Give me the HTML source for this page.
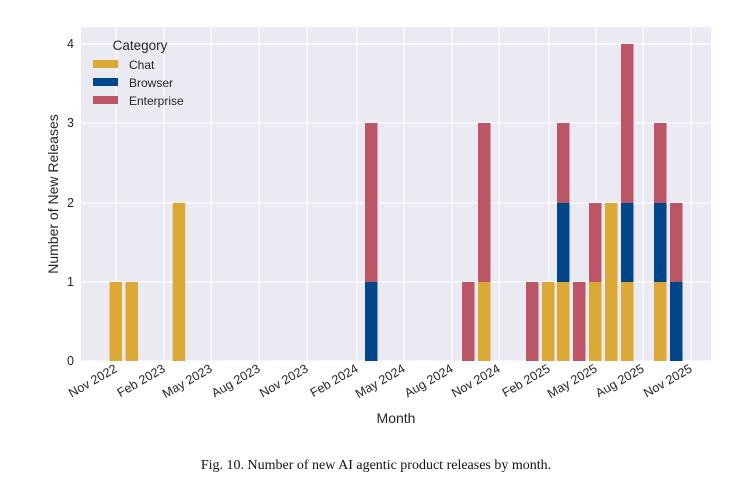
<!DOCTYPE html>
<html><head><meta charset="utf-8"><style>body{margin:0;background:#fff}svg{display:block}</style></head><body>
<svg width="750" height="489" xmlns="http://www.w3.org/2000/svg" font-family="Liberation Sans, sans-serif">
<rect x="81" y="27" width="630" height="334" fill="#EAEAF2"/>
<g stroke="#fff" stroke-width="1.2">
<line x1="81" x2="711" y1="361" y2="361"/><line x1="81" x2="711" y1="282" y2="282"/><line x1="81" x2="711" y1="203" y2="203"/><line x1="81" x2="711" y1="123" y2="123"/><line x1="81" x2="711" y1="44" y2="44"/>
<line x1="116" x2="116" y1="27" y2="361"/><line x1="164" x2="164" y1="27" y2="361"/><line x1="211" x2="211" y1="27" y2="361"/><line x1="259" x2="259" y1="27" y2="361"/><line x1="307" x2="307" y1="27" y2="361"/><line x1="357" x2="357" y1="27" y2="361"/><line x1="404" x2="404" y1="27" y2="361"/><line x1="452" x2="452" y1="27" y2="361"/><line x1="499" x2="499" y1="27" y2="361"/><line x1="549" x2="549" y1="27" y2="361"/><line x1="596" x2="596" y1="27" y2="361"/><line x1="643" x2="643" y1="27" y2="361"/><line x1="691" x2="691" y1="27" y2="361"/>
</g>
<g>
<rect x="109.5" y="282" width="12.5" height="79" fill="#DDA935"/>
<rect x="125.5" y="282" width="12.5" height="79" fill="#DDA935"/>
<rect x="172.7" y="203" width="12.5" height="158" fill="#DDA935"/>
<rect x="365" y="282" width="12.5" height="79" fill="#00468B"/><rect x="365" y="123" width="12.5" height="159" fill="#BC5566"/>
<rect x="462" y="282" width="12.5" height="79" fill="#BC5566"/>
<rect x="478" y="282" width="12.5" height="79" fill="#DDA935"/><rect x="478" y="123" width="12.5" height="159" fill="#BC5566"/>
<rect x="526" y="282" width="12.5" height="79" fill="#BC5566"/>
<rect x="542" y="282" width="12.5" height="79" fill="#DDA935"/>
<rect x="557" y="282" width="12.5" height="79" fill="#DDA935"/><rect x="557" y="203" width="12.5" height="79" fill="#00468B"/><rect x="557" y="123" width="12.5" height="80" fill="#BC5566"/>
<rect x="573" y="282" width="12.5" height="79" fill="#BC5566"/>
<rect x="589" y="282" width="12.5" height="79" fill="#DDA935"/><rect x="589" y="203" width="12.5" height="79" fill="#BC5566"/>
<rect x="605" y="203" width="12.5" height="158" fill="#DDA935"/>
<rect x="621" y="282" width="12.5" height="79" fill="#DDA935"/><rect x="621" y="203" width="12.5" height="79" fill="#00468B"/><rect x="621" y="44" width="12.5" height="159" fill="#BC5566"/>
<rect x="654" y="282" width="12.5" height="79" fill="#DDA935"/><rect x="654" y="203" width="12.5" height="79" fill="#00468B"/><rect x="654" y="123" width="12.5" height="80" fill="#BC5566"/>
<rect x="670" y="282" width="12.5" height="79" fill="#00468B"/><rect x="670" y="203" width="12.5" height="79" fill="#BC5566"/>
</g>
<g font-size="12.5" fill="#262626" text-anchor="end">
<text x="74" y="365">0</text><text x="74" y="286">1</text><text x="74" y="207">2</text><text x="74" y="127">3</text><text x="74" y="48">4</text>
</g>
<g font-size="12.5" fill="#262626" text-anchor="end">
<text transform="translate(118,371) rotate(-30)">Nov 2022</text>
<text transform="translate(166,371) rotate(-30)">Feb 2023</text>
<text transform="translate(213,371) rotate(-30)">May 2023</text>
<text transform="translate(261,371) rotate(-30)">Aug 2023</text>
<text transform="translate(309,371) rotate(-30)">Nov 2023</text>
<text transform="translate(359,371) rotate(-30)">Feb 2024</text>
<text transform="translate(406,371) rotate(-30)">May 2024</text>
<text transform="translate(454,371) rotate(-30)">Aug 2024</text>
<text transform="translate(501,371) rotate(-30)">Nov 2024</text>
<text transform="translate(551,371) rotate(-30)">Feb 2025</text>
<text transform="translate(598,371) rotate(-30)">May 2025</text>
<text transform="translate(645,371) rotate(-30)">Aug 2025</text>
<text transform="translate(693,371) rotate(-30)">Nov 2025</text>
</g>
<text x="396" y="423" font-size="14" fill="#262626" text-anchor="middle">Month</text>
<text transform="translate(58,194) rotate(-90)" font-size="14" fill="#262626" text-anchor="middle">Number of New Releases</text>
<text x="140" y="50" font-size="13.5" fill="#262626" text-anchor="middle">Category</text>
<rect x="93" y="60" width="25" height="8" fill="#DDA935"/><text x="129" y="69" font-size="12" fill="#262626">Chat</text>
<rect x="93" y="78" width="25" height="8" fill="#00468B"/><text x="129" y="87" font-size="12" fill="#262626">Browser</text>
<rect x="93" y="96" width="25" height="8" fill="#BC5566"/><text x="129" y="105" font-size="12" fill="#262626">Enterprise</text>
<text x="376" y="469" font-size="14" font-family="Liberation Serif, serif" fill="#111" text-anchor="middle">Fig. 10.  Number of new AI agentic product releases by month.</text>
</svg>
</body></html>
